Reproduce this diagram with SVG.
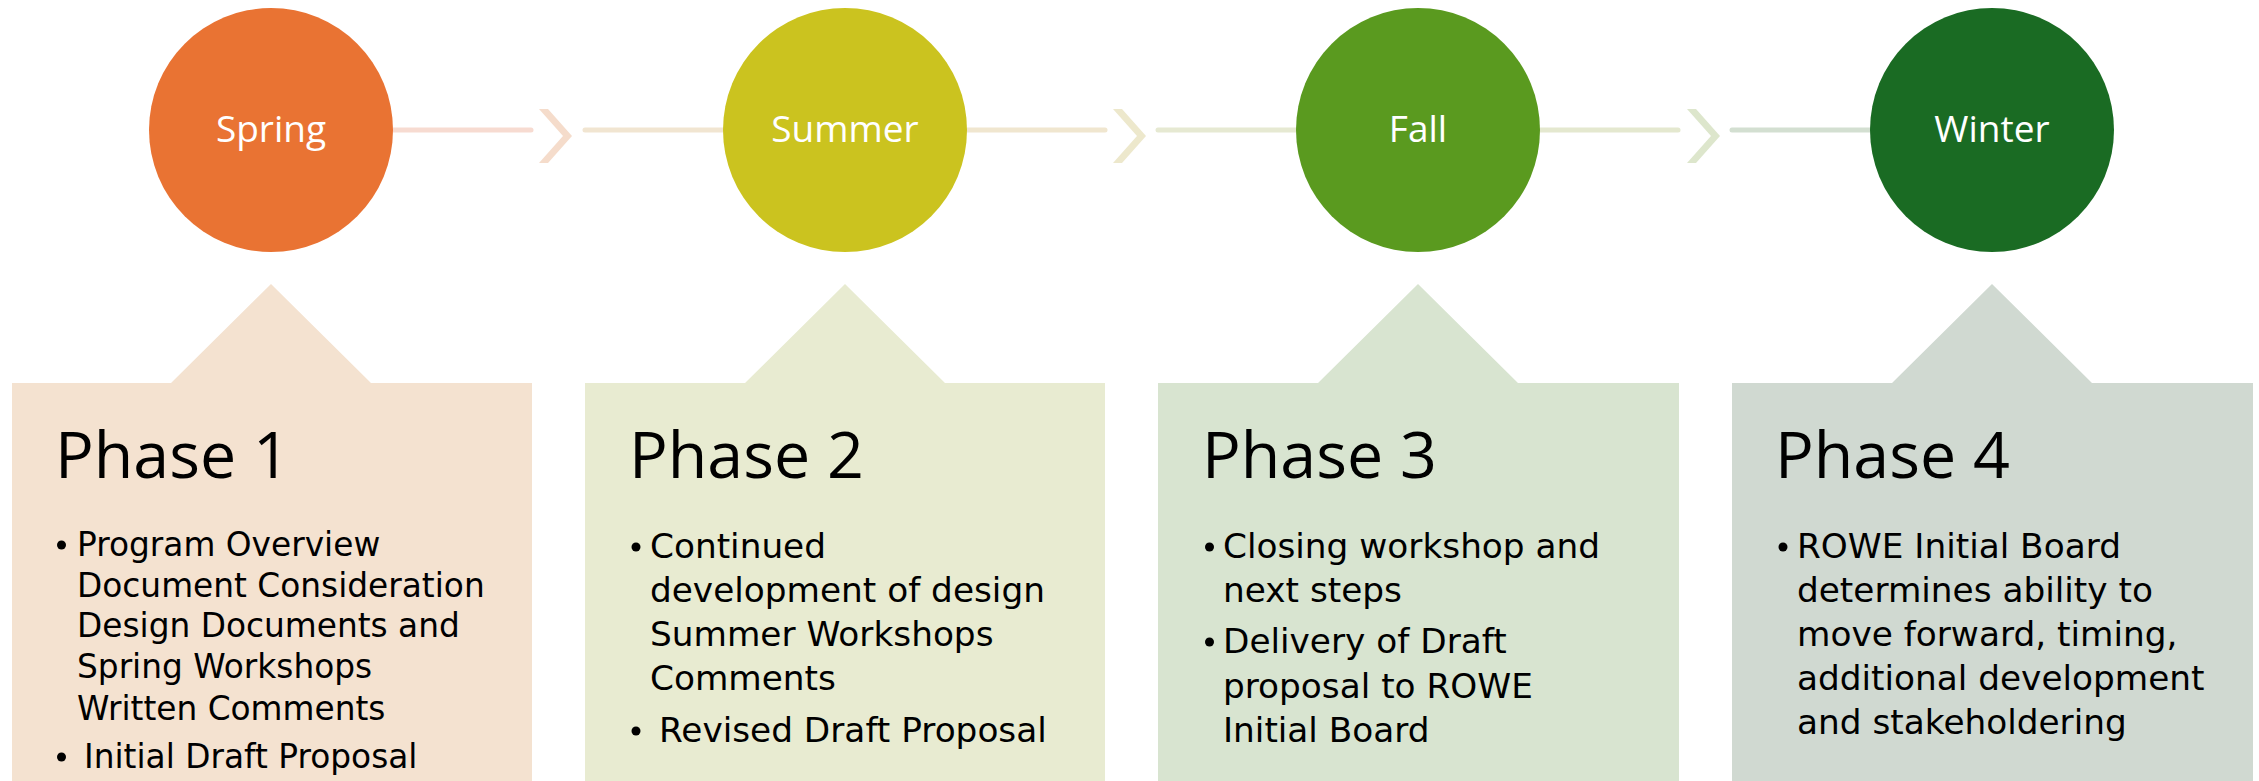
<svg xmlns="http://www.w3.org/2000/svg" width="2259" height="781" viewBox="0 0 2259 781">
<style>
.lbl{font-family:"Open Sans","Liberation Sans",sans-serif;font-size:37px;fill:#ffffff;text-anchor:middle}
.ttl{font-family:"Open Sans","Liberation Sans",sans-serif;font-size:64.5px;fill:#000000}
.txt{font-family:"DejaVu Sans","Open Sans",sans-serif;font-size:34.3px;fill:#000000}
.txt1{font-family:"DejaVu Sans","Open Sans",sans-serif;font-size:32.8px;fill:#000000}
.ln{stroke-width:5;stroke-linecap:round;fill:none}
.bul{fill:#000000}
</style>
<rect width="2259" height="781" fill="#ffffff"/>
<g id="connectors">
<line class="ln" x1="393" y1="130" x2="531" y2="130" stroke="#f7dbd1"/>
<polygon points="539,109 548,109 572,136 548,163 539,163 563,136" fill="#f5dccb"/>
<line class="ln" x1="585" y1="130" x2="723" y2="130" stroke="#f1e5d1"/>
<line class="ln" x1="967" y1="130" x2="1105" y2="130" stroke="#f0e6cf"/>
<polygon points="1113,109 1122,109 1146,136 1122,163 1113,163 1137,136" fill="#ede8cc"/>
<line class="ln" x1="1158" y1="130" x2="1296" y2="130" stroke="#e6e9d2"/>
<line class="ln" x1="1540" y1="130" x2="1678" y2="130" stroke="#e4e8cf"/>
<polygon points="1687,109 1696,109 1720,136 1696,163 1687,163 1711,136" fill="#dde6cc"/>
<line class="ln" x1="1732" y1="130" x2="1870" y2="130" stroke="#d3dfd1"/>
</g>
<g id="spring">
<circle cx="271" cy="130" r="122" fill="#e97333"/>
<text class="lbl" x="271" y="142">Spring</text>
</g>
<g id="summer">
<circle cx="845" cy="130" r="122" fill="#cbc31f"/>
<text class="lbl" x="845" y="142">Summer</text>
</g>
<g id="fall">
<circle cx="1418" cy="130" r="122" fill="#5a9a1f"/>
<text class="lbl" x="1418" y="142">Fall</text>
</g>
<g id="winter">
<circle cx="1992" cy="130" r="122" fill="#1a6b23"/>
<text class="lbl" x="1992" y="142">Winter</text>
</g>
<g id="phase1">
<path d="M12,383 H171 L271,284 L371,383 H532 V781 H12 Z" fill="#f4e2d0"/>
<text class="ttl" x="55" y="478">Phase 1</text>
<circle class="bul" cx="61.5" cy="545" r="4.5"/>
<text class="txt1" x="77" y="556">Program Overview</text>
<text class="txt1" x="77" y="597">Document Consideration</text>
<text class="txt1" x="77" y="637">Design Documents and</text>
<text class="txt1" x="77" y="678">Spring Workshops</text>
<text class="txt1" x="77" y="720">Written Comments</text>
<circle class="bul" cx="61.5" cy="757" r="4.5"/>
<text class="txt1" x="84" y="768">Initial Draft Proposal</text>
</g>
<g id="phase2">
<path d="M585,383 H745 L845,284 L945,383 H1105 V781 H585 Z" fill="#e8ebd1"/>
<text class="ttl" x="629" y="478">Phase 2</text>
<circle class="bul" cx="636" cy="547" r="4.5"/>
<text class="txt" x="650" y="558">Continued</text>
<text class="txt" x="650" y="602">development of design</text>
<text class="txt" x="650" y="646">Summer Workshops</text>
<text class="txt" x="650" y="690">Comments</text>
<circle class="bul" cx="636" cy="731" r="4.5"/>
<text class="txt" x="659" y="742">Revised Draft Proposal</text>
</g>
<g id="phase3">
<path d="M1158,383 H1318 L1418,284 L1518,383 H1679 V781 H1158 Z" fill="#d8e4d0"/>
<text class="ttl" x="1202" y="478">Phase 3</text>
<circle class="bul" cx="1209.5" cy="547" r="4.5"/>
<text class="txt" x="1223" y="558">Closing workshop and</text>
<text class="txt" x="1223" y="602">next steps</text>
<circle class="bul" cx="1209.5" cy="642" r="4.5"/>
<text class="txt" x="1223" y="653">Delivery of Draft</text>
<text class="txt" x="1223" y="698">proposal to ROWE</text>
<text class="txt" x="1223" y="742">Initial Board</text>
</g>
<g id="phase4">
<path d="M1732,383 H1892 L1992,284 L2092,383 H2253 V781 H1732 Z" fill="#d0d9d1"/>
<text class="ttl" x="1775" y="478">Phase 4</text>
<circle class="bul" cx="1783" cy="547" r="4.5"/>
<text class="txt" x="1797" y="558">ROWE Initial Board</text>
<text class="txt" x="1797" y="602">determines ability to</text>
<text class="txt" x="1797" y="646">move forward, timing,</text>
<text class="txt" x="1797" y="690">additional development</text>
<text class="txt" x="1797" y="734">and stakeholdering</text>
</g>
</svg>
